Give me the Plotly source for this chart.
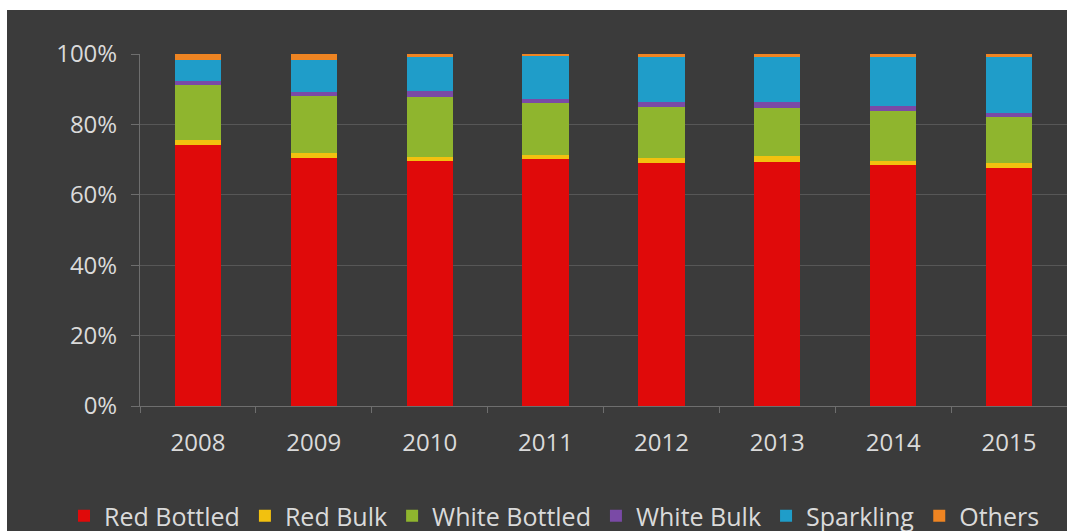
import plotly.graph_objects as go

# Wine category shares by year (percent of total)
years = ["2008", "2009", "2010", "2011", "2012", "2013", "2014", "2015"]

red_bottled   = [74.1, 70.5, 69.7, 70.1, 69.1, 69.4, 68.5, 67.6]
red_bulk      = [1.5, 1.4, 1.1, 1.2, 1.3, 1.6, 1.2, 1.3]
white_bottled = [15.6, 16.2, 17.1, 14.7, 14.6, 13.6, 14.2, 13.1]
white_bulk    = [1.1, 1.1, 1.7, 1.1, 1.5, 1.9, 1.3, 1.3]
sparkling     = [6.0, 9.1, 9.5, 12.3, 12.7, 12.7, 13.9, 15.8]
others        = [1.7, 1.7, 0.9, 0.6, 0.8, 0.8, 0.9, 0.9]

series = [
    ("Red Bottled", red_bottled, "#e00a0a"),
    ("Red Bulk", red_bulk, "#f2c10f"),
    ("White Bottled", white_bottled, "#8fb52e"),
    ("White Bulk", white_bulk, "#7a4aa6"),
    ("Sparkling", sparkling, "#1f9dc9"),
    ("Others", others, "#ee8422"),
]

fig = go.Figure()
for name, vals, color in series:
    fig.add_trace(go.Bar(
        x=years, y=vals, name=name,
        marker=dict(color=color, line=dict(width=0)),
    ))

text_color = "#dadada"
font_family = "'Open Sans', Lato, sans-serif"

# plot area geometry in pixels (used for the background panel and legend)
PL, PT, PB = 140, 54, 125
PW, PH = 1067 - PL, 531 - PT - PB

fig.update_layout(
    barmode="stack",
    barnorm="percent",
    bargap=0.6,
    width=1067, height=531,
    margin=dict(l=PL, r=0, t=PT, b=PB, autoexpand=False),
    paper_bgcolor="white",
    plot_bgcolor="rgba(0,0,0,0)",
    font=dict(family=font_family, color=text_color, size=22),
    showlegend=True,
    legend=dict(
        orientation="h",
        x=(64 - PL) / PW, xanchor="left",
        y=-(516 - (PT + PH)) / PH, yanchor="middle",
        font=dict(size=25, color=text_color),
        bgcolor="rgba(0,0,0,0)",
        itemwidth=30,
        traceorder="normal",
    ),
    shapes=[
        dict(type="rect", xref="paper", yref="paper",
             x0=(7 - PL) / PW, x1=1.01, y0=-(PB + 5) / PH, y1=(PH + PT - 10) / PH,
             fillcolor="#3b3b3b", line=dict(width=0), layer="below"),
    ],
)

fig.update_yaxes(
    range=[0, 100],
    tickvals=[0, 20, 40, 60, 80, 100],
    ticktext=["0%", "20%", "40%", "60%", "80%", "100%"],
    showgrid=True, gridcolor="#575757", gridwidth=1,
    showline=True, linecolor="#6e6e6e", linewidth=1,
    ticks="outside", ticklen=8, tickcolor="#6e6e6e",
    tickfont=dict(size=24, color=text_color),
    ticklabelstandoff=9,
    zeroline=False,
)
fig.update_xaxes(
    showline=True, linecolor="#6e6e6e", linewidth=1,
    ticks="outside", ticklen=6, tickcolor="#6e6e6e",
    tickson="boundaries",
    tickfont=dict(size=24, color=text_color),
    ticklabelstandoff=15,
    showgrid=False,
)

fig.write_html("out.html")
